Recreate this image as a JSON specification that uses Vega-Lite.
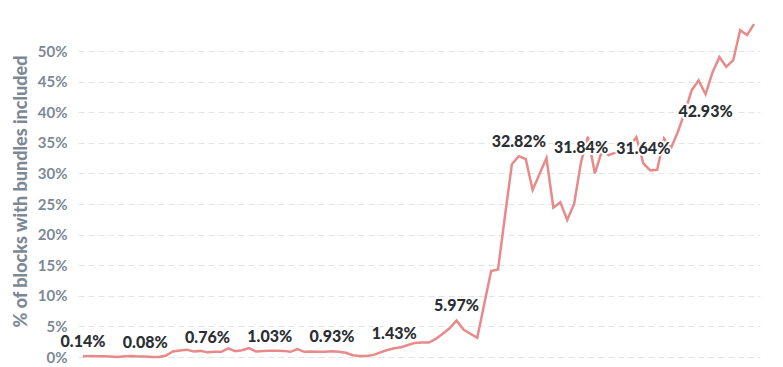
{
  "$schema": "https://vega.github.io/schema/vega-lite/v6.json",
  "width": 682,
  "height": 306,
  "autosize": {"type": "none"},
  "padding": {"left": 78, "top": 51, "right": 23, "bottom": 10},
  "background": "white",
  "config": {"view": {"stroke": null}, "font": "Lato"},
  "data": {"values": [
    {"period": 0, "share": 0.0014}, {"period": 1, "share": 0.0015}, {"period": 2, "share": 0.0014}, {"period": 3, "share": 0.0012},
    {"period": 4, "share": 0.0010}, {"period": 5, "share": 0.0000}, {"period": 6, "share": 0.0012}, {"period": 7, "share": 0.0015},
    {"period": 8, "share": 0.0010}, {"period": 9, "share": 0.0008}, {"period": 10, "share": 0.0002}, {"period": 11, "share": 0.0000},
    {"period": 12, "share": 0.0025}, {"period": 13, "share": 0.0090}, {"period": 14, "share": 0.0105}, {"period": 15, "share": 0.0120},
    {"period": 16, "share": 0.0090}, {"period": 17, "share": 0.0100}, {"period": 18, "share": 0.0076}, {"period": 19, "share": 0.0085},
    {"period": 20, "share": 0.0085}, {"period": 21, "share": 0.0140}, {"period": 22, "share": 0.0095}, {"period": 23, "share": 0.0110},
    {"period": 24, "share": 0.0145}, {"period": 25, "share": 0.0090}, {"period": 26, "share": 0.0100}, {"period": 27, "share": 0.0103},
    {"period": 28, "share": 0.0102}, {"period": 29, "share": 0.0100}, {"period": 30, "share": 0.0085}, {"period": 31, "share": 0.0130},
    {"period": 32, "share": 0.0085}, {"period": 33, "share": 0.0090}, {"period": 34, "share": 0.0085}, {"period": 35, "share": 0.0085},
    {"period": 36, "share": 0.0093}, {"period": 37, "share": 0.0085}, {"period": 38, "share": 0.0070}, {"period": 39, "share": 0.0030},
    {"period": 40, "share": 0.0015}, {"period": 41, "share": 0.0015}, {"period": 42, "share": 0.0035}, {"period": 43, "share": 0.0075},
    {"period": 44, "share": 0.0115}, {"period": 45, "share": 0.0143}, {"period": 46, "share": 0.0160}, {"period": 47, "share": 0.0196},
    {"period": 48, "share": 0.0230}, {"period": 49, "share": 0.0235}, {"period": 50, "share": 0.0235}, {"period": 51, "share": 0.0295},
    {"period": 52, "share": 0.0380}, {"period": 53, "share": 0.0470}, {"period": 54, "share": 0.0597}, {"period": 55, "share": 0.0450},
    {"period": 56, "share": 0.0380}, {"period": 57, "share": 0.0315}, {"period": 58, "share": 0.0860}, {"period": 59, "share": 0.1405},
    {"period": 60, "share": 0.1430}, {"period": 61, "share": 0.2300}, {"period": 62, "share": 0.3150}, {"period": 63, "share": 0.3282},
    {"period": 64, "share": 0.3235}, {"period": 65, "share": 0.2730}, {"period": 66, "share": 0.2990}, {"period": 67, "share": 0.3250},
    {"period": 68, "share": 0.2440}, {"period": 69, "share": 0.2530}, {"period": 70, "share": 0.2240}, {"period": 71, "share": 0.2500},
    {"period": 72, "share": 0.3184}, {"period": 73, "share": 0.3600}, {"period": 74, "share": 0.3000}, {"period": 75, "share": 0.3360},
    {"period": 76, "share": 0.3300}, {"period": 77, "share": 0.3340}, {"period": 78, "share": 0.3360}, {"period": 79, "share": 0.3450},
    {"period": 80, "share": 0.3590}, {"period": 81, "share": 0.3164}, {"period": 82, "share": 0.3050}, {"period": 83, "share": 0.3060},
    {"period": 84, "share": 0.3570}, {"period": 85, "share": 0.3410}, {"period": 86, "share": 0.3680}, {"period": 87, "share": 0.4000},
    {"period": 88, "share": 0.4360}, {"period": 89, "share": 0.4520}, {"period": 90, "share": 0.4293}, {"period": 91, "share": 0.4650},
    {"period": 92, "share": 0.4900}, {"period": 93, "share": 0.4740}, {"period": 94, "share": 0.4850}, {"period": 95, "share": 0.5340},
    {"period": 96, "share": 0.5260}, {"period": 97, "share": 0.5440}
  ]},
  "encoding": {
    "x": {"field": "period", "type": "quantitative", "scale": {"domain": [-0.72, 97.87], "nice": false, "zero": false}, "axis": null},
    "y": {"field": "share", "type": "quantitative", "scale": {"domain": [0, 0.5], "nice": false},
      "axis": {
        "values": [0, 0.05, 0.1, 0.15, 0.2, 0.25, 0.3, 0.35, 0.4, 0.45, 0.5],
        "format": ".0%",
        "domain": false, "ticks": false,
        "grid": true, "gridDash": [6, 4], "gridColor": "#e4e4e4", "gridWidth": 1,
        "labelFont": "Lato", "labelFontSize": 15, "labelFontWeight": "bold", "labelColor": "#7d8895", "labelPadding": 11,
        "title": "% of blocks with bundles included",
        "titleFont": "Lato", "titleFontSize": 18, "titleFontWeight": 900, "titleColor": "#7d8895", "titlePadding": 7,
        "titleY": 140, "titleAlign": "center"
      }
    }
  },
  "layer": [
    {"mark": {"type": "line", "color": "#e8898a", "strokeWidth": 2.5}},
    {
      "transform": [{"filter": "datum.period % 9 === 0 && datum.period !== 90"}],
      "mark": {"type": "text", "dy": -14, "font": "Lato", "fontSize": 16, "fontWeight": 900, "fill": "white", "stroke": "white", "strokeWidth": 4, "strokeJoin": "round"},
      "encoding": {"text": {"field": "share", "type": "quantitative", "format": ".2%"}}
    },
    {
      "transform": [{"filter": "datum.period % 9 === 0 && datum.period !== 90"}],
      "mark": {"type": "text", "dy": -14, "font": "Lato", "fontSize": 16, "fontWeight": 900, "color": "#2b2f33"},
      "encoding": {"text": {"field": "share", "type": "quantitative", "format": ".2%"}}
    },
    {
      "transform": [{"filter": "datum.period === 90"}],
      "mark": {"type": "text", "dy": 18, "font": "Lato", "fontSize": 16, "fontWeight": 900, "fill": "white", "stroke": "white", "strokeWidth": 4, "strokeJoin": "round"},
      "encoding": {"text": {"field": "share", "type": "quantitative", "format": ".2%"}}
    },
    {
      "transform": [{"filter": "datum.period === 90"}],
      "mark": {"type": "text", "dy": 18, "font": "Lato", "fontSize": 16, "fontWeight": 900, "color": "#2b2f33"},
      "encoding": {"text": {"field": "share", "type": "quantitative", "format": ".2%"}}
    }
  ]
}
